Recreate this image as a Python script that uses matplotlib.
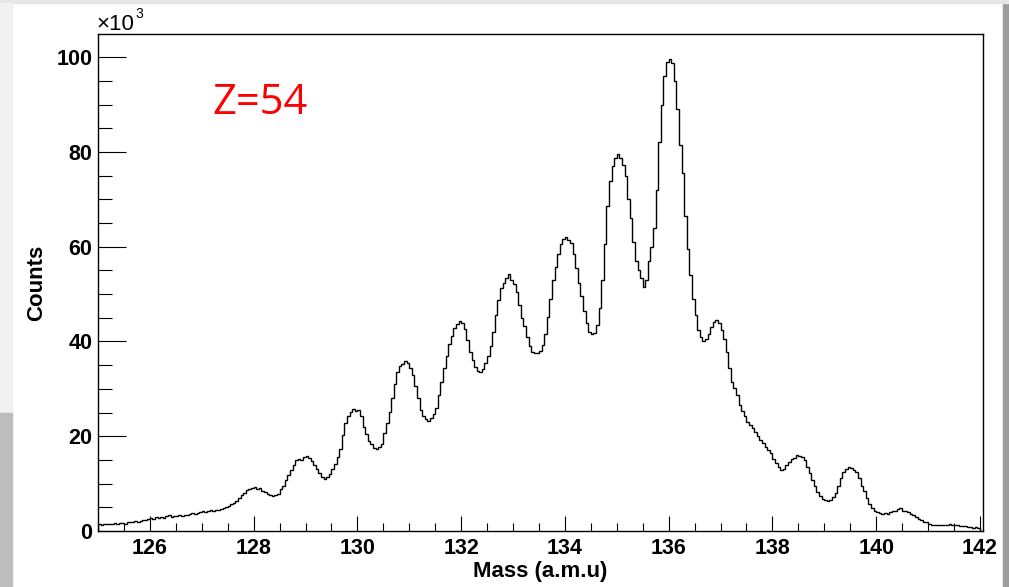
import numpy as np
import matplotlib.pyplot as plt
from matplotlib.patches import Rectangle
from matplotlib.ticker import MultipleLocator

# histogram: Z=54 mass spectrum, 0.05 amu bins from 125 to 142, counts in units of 1e3
mass_min = 125.0
bin_width = 0.05
counts_k = [
    1.4, 1.3, 1.5, 1.4, 1.5, 1.5, 1.6, 1.5, 1.7, 1.6, 1.5, 1.9, 2.0, 1.9, 2.1, 2.0, 2.2, 2.4, 2.3, 2.5,
    2.7, 2.5, 2.9, 2.8, 3.0, 2.8, 3.1, 3.3, 3.0, 3.2, 3.1, 3.3, 3.2, 3.4, 3.3, 3.6, 3.8, 3.6, 3.9, 4.1,
    4.2, 4.0, 4.3, 4.4, 4.3, 4.5, 4.4, 4.6, 4.8, 5.0, 5.3, 5.6, 6.0, 6.4, 7.0, 7.6, 8.0, 8.6, 8.8, 9.1,
    9.2, 8.8, 9.0, 8.5, 8.3, 7.9, 7.7, 7.3, 7.5, 7.9, 8.8, 9.6, 10.8, 11.9, 12.9, 14.0, 14.9, 15.3, 15.0, 15.6,
    15.9, 15.4, 14.7, 13.9, 13.0, 12.2, 11.5, 11.0, 11.3, 12.0, 13.0, 14.2, 15.6, 17.3, 20.2, 22.8, 24.3, 25.1, 25.7, 25.4,
    25.5, 24.2, 22.0, 20.4, 19.1, 18.3, 17.6, 17.4, 17.8, 18.4, 20.6, 22.8, 25.2, 28.0, 31.0, 33.5, 34.9, 35.3, 35.8, 35.4,
    34.4, 33.0, 30.5, 28.0, 25.6, 24.3, 23.6, 23.2, 23.8, 24.6, 26.0, 28.6, 31.5, 34.3, 37.0, 39.4, 41.2, 42.8, 43.6, 44.4,
    44.0, 42.6, 40.4, 37.8, 36.0, 34.6, 33.8, 33.5, 34.2, 35.4, 37.0, 39.0, 42.0, 45.6, 48.8, 51.2, 52.4, 53.3, 54.2, 53.0,
    52.2, 50.5, 47.8, 45.0, 43.2, 41.0, 39.0, 37.8, 37.5, 37.6, 38.0, 39.2, 41.5, 45.2, 49.0, 53.0, 55.8, 58.4, 60.5, 61.6,
    62.0, 61.5, 60.8, 58.5, 55.5, 52.4, 49.5, 46.5, 44.0, 42.0, 41.5, 41.8, 43.5, 47.0, 53.0, 60.5, 68.5, 73.8, 77.0, 78.8,
    79.6, 78.8, 77.2, 75.0, 70.0, 66.0, 61.0, 57.0, 55.0, 53.5, 51.5, 53.0, 57.0, 60.0, 64.0, 72.0, 82.0, 90.0, 96.0, 99.0,
    99.6, 98.8, 95.0, 89.0, 81.5, 75.5, 66.5, 59.5, 54.0, 49.0, 45.5, 42.5, 41.0, 40.2, 40.6, 41.5, 43.0, 44.2, 44.6, 43.8,
    42.5, 40.5, 37.8, 34.5, 31.5, 30.2, 28.6, 26.5, 25.4, 24.2, 23.0, 22.4, 21.7, 20.8, 20.0, 19.3, 18.5, 17.8, 17.0, 16.4,
    15.3, 14.4, 13.5, 12.9, 13.1, 14.0, 14.6, 15.3, 15.4, 16.0, 15.8, 15.6, 15.0, 13.6, 12.2, 10.8, 9.4, 8.2, 7.4, 6.8,
    6.6, 6.4, 6.5, 7.2, 8.0, 9.6, 11.2, 12.4, 13.0, 13.5, 13.3, 12.9, 12.4, 11.2, 9.6, 8.4, 7.0, 5.8, 4.8, 4.3,
    4.0, 3.8, 3.6, 3.7, 3.6, 4.0, 4.3, 4.2, 4.6, 4.8, 4.3, 4.2, 4.0, 3.6, 3.3, 3.0, 2.6, 2.3, 2.0, 1.8,
    1.5, 1.3, 1.2, 1.2, 1.3, 1.2, 1.3, 1.3, 1.4, 1.3, 1.2, 1.3, 1.1, 1.0, 1.1, 0.9, 0.8, 0.7, 0.8, 0.6,
]
x_ticks = [126, 128, 130, 132, 134, 136, 138, 140, 142]
y_ticks = [0, 20, 40, 60, 80, 100]

W, H = 1009, 587
fig = plt.figure(figsize=(W / 100, H / 100), dpi=100)
fig.patch.set_facecolor('white')

# bits of the screenshot around the canvas
def frame_rect(x, y, w, h, color):
    fig.patches.append(Rectangle((x / W, 1 - (y + h) / H), w / W, h / H,
                                 transform=fig.transFigure, color=color, zorder=-1))

frame_rect(1003, 0, 6, H, '#9c9c9c')
frame_rect(0, 0, W, 3, '#e6e6e6')
frame_rect(0, 3, 12, 410, '#f1f1f1')
frame_rect(0, 413, 12, 174, '#bdbdbd')

ax = fig.add_axes([98 / W, 56 / H, 885 / W, 497 / H])
edges = mass_min + bin_width * np.arange(len(counts_k) + 1)
ax.stairs(counts_k, edges, color='black', lw=1.0)

ax.set_xlim(125, 142.06)
ax.set_ylim(0, 104.9)
ax.set_xticks(x_ticks)
ax.set_yticks(y_ticks)
ax.xaxis.set_minor_locator(MultipleLocator(0.5))
ax.yaxis.set_minor_locator(MultipleLocator(5))
ax.tick_params(axis='both', which='both', direction='in', top=False, right=False, width=0.8)
ax.tick_params(axis='x', which='major', length=11, pad=5)
ax.tick_params(axis='x', which='minor', length=5.5)
ax.tick_params(axis='y', which='major', length=20, pad=4)
ax.tick_params(axis='y', which='minor', length=10)
for lab in ax.get_xticklabels() + ax.get_yticklabels():
    lab.set_fontfamily('Liberation Sans')
    lab.set_fontweight('bold')
    lab.set_fontsize(15.5)
for s in ax.spines.values():
    s.set_linewidth(1.0)

fig.text(540 / W, 1 - 572 / H, 'Mass (a.m.u)', ha='center', va='center',
         family='Liberation Sans', weight='bold', fontsize=16)
fig.text(37 / W, 1 - 283 / H, 'Counts', ha='center', va='center', rotation=90,
         family='Liberation Sans', weight='bold', fontsize=16)
fig.text(96 / W, 1 - 24 / H, '\u00d710', ha='left', va='center',
         family='Liberation Sans', fontsize=16)
fig.text(135 / W, 1 - 14 / H, '3', ha='left', va='center',
         family='Liberation Sans', fontsize=10)
fig.text(212 / W, 1 - 103 / H, 'Z=54', ha='left', va='center', color='red',
         family='Open Sans', fontsize=30)

fig.savefig('out.png', dpi=100)
